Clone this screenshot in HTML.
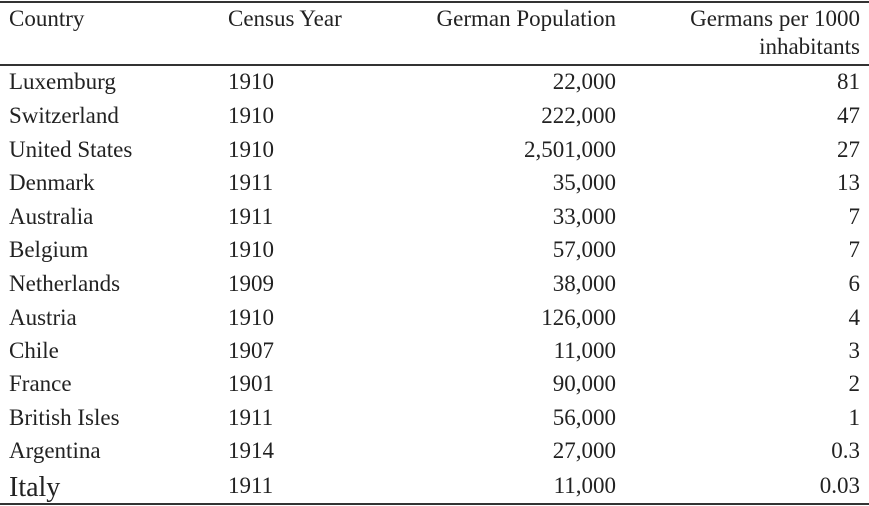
<!DOCTYPE html>
<html><head><meta charset="utf-8"><style>
body{margin:0;width:869px;height:506px;background:#fff;position:relative;overflow:hidden;font-family:"Liberation Serif",serif;font-size:23px;color:#222}
.l{position:absolute;left:0;width:869px;height:2px;background:#333}
.r{position:absolute;left:0;width:869px;height:30px;line-height:30px}
.r span{position:absolute;white-space:nowrap}
.c1{left:9px}.c2{left:228px}.c3{right:253px}.c4{right:9px}
</style></head><body>
<div class="l" style="top:1px"></div>
<div class="l" style="top:64px"></div>
<div class="l" style="top:503px"></div>
<div class="r" style="top:4px"><span class="c1">Country</span><span class="c2">Census Year</span><span class="c3">German Population</span><span class="c4">Germans per 1000</span></div>
<div class="r" style="top:32px"><span class="c4">inhabitants</span></div>
<div class="r" style="top:67px"><span class="c1">Luxemburg</span><span class="c2">1910</span><span class="c3">22,000</span><span class="c4">81</span></div>
<div class="r" style="top:101px"><span class="c1">Switzerland</span><span class="c2">1910</span><span class="c3">222,000</span><span class="c4">47</span></div>
<div class="r" style="top:135px"><span class="c1">United States</span><span class="c2">1910</span><span class="c3">2,501,000</span><span class="c4">27</span></div>
<div class="r" style="top:168px"><span class="c1">Denmark</span><span class="c2">1911</span><span class="c3">35,000</span><span class="c4">13</span></div>
<div class="r" style="top:202px"><span class="c1">Australia</span><span class="c2">1911</span><span class="c3">33,000</span><span class="c4">7</span></div>
<div class="r" style="top:235px"><span class="c1">Belgium</span><span class="c2">1910</span><span class="c3">57,000</span><span class="c4">7</span></div>
<div class="r" style="top:269px"><span class="c1">Netherlands</span><span class="c2">1909</span><span class="c3">38,000</span><span class="c4">6</span></div>
<div class="r" style="top:303px"><span class="c1">Austria</span><span class="c2">1910</span><span class="c3">126,000</span><span class="c4">4</span></div>
<div class="r" style="top:336px"><span class="c1">Chile</span><span class="c2">1907</span><span class="c3">11,000</span><span class="c4">3</span></div>
<div class="r" style="top:369px"><span class="c1">France</span><span class="c2">1901</span><span class="c3">90,000</span><span class="c4">2</span></div>
<div class="r" style="top:403px"><span class="c1">British Isles</span><span class="c2">1911</span><span class="c3">56,000</span><span class="c4">1</span></div>
<div class="r" style="top:436px"><span class="c1">Argentina</span><span class="c2">1914</span><span class="c3">27,000</span><span class="c4">0.3</span></div>
<div class="r" style="top:471px"><span class="c1" style="font-size:28px;top:2px">Italy</span><span class="c2">1911</span><span class="c3">11,000</span><span class="c4">0.03</span></div>
</body></html>
